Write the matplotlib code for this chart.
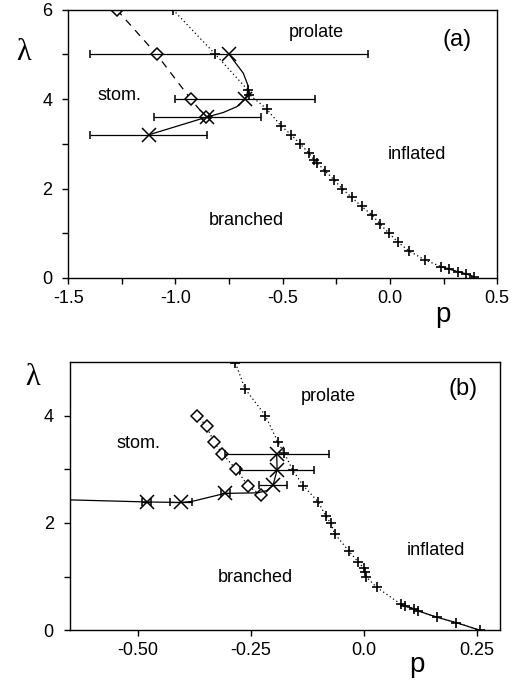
import numpy as np
import matplotlib.pyplot as plt
from matplotlib.ticker import MultipleLocator, FixedLocator

plt.rcParams['font.family'] = ['Liberation Sans', 'DejaVu Sans']

# ---- panel (a) ----
a_plus_p = [-1.012, -0.814, -0.662, -0.655, -0.575, -0.508, -0.46, -0.42, -0.379, -0.352, -0.342,
            -0.303, -0.262, -0.224, -0.178, -0.132, -0.082, -0.045, -0.005, 0.038, 0.09, 0.164,
            0.24, 0.276, 0.317, 0.356, 0.392]
a_plus_lam = [6.0, 5.0, 4.2, 4.1, 3.78, 3.4, 3.2, 3.0, 2.8, 2.63, 2.58, 2.4, 2.2, 2.0, 1.8, 1.6,
              1.4, 1.2, 1.0, 0.8, 0.6, 0.4, 0.25, 0.2, 0.14, 0.09, 0.03]
a_diam_p = [-1.274, -1.088, -0.929, -0.859]
a_diam_lam = [6.0, 5.0, 4.0, 3.6]
a_x_p = [-0.75, -0.676, -0.852, -1.125]
a_x_lam = [5.0, 4.0, 3.6, 3.2]
a_x_err = [0.65, 0.325, 0.25, 0.272]
a_line_p = [-0.75, -0.684, -0.660, -0.668, -0.676, -0.714, -0.777, -0.852, -1.125]
a_line_lam = [5.0, 4.58, 4.28, 4.08, 4.0, 3.83, 3.70, 3.6, 3.2]

# ---- panel (b) ----
b_plus_p = [-0.284, -0.263, -0.218, -0.190, -0.176, -0.158, -0.134, -0.101, -0.084, -0.073, -0.065,
            -0.034, -0.014, -0.001, 0.003, 0.005, 0.028, 0.082, 0.090, 0.111, 0.119, 0.162,
            0.204, 0.256]
b_plus_lam = [4.98, 4.5, 4.0, 3.5, 3.3, 2.99, 2.69, 2.39, 2.12, 1.99, 1.8, 1.48, 1.28, 1.16, 1.08,
              0.99, 0.8, 0.48, 0.45, 0.4, 0.36, 0.24, 0.14, 0.0]
b_diam_p = [-0.368, -0.348, -0.331, -0.313, -0.283, -0.256, -0.228]
b_diam_lam = [4.0, 3.8, 3.5, 3.29, 3.0, 2.69, 2.52]
b_x_p = [-0.48, -0.405, -0.307, -0.201, -0.192, -0.193]
b_x_lam = [2.39, 2.39, 2.55, 2.70, 2.99, 3.29]
b_x_err = [0.01, 0.024, 0.01, 0.03, 0.082, 0.115]
b_line_p = [-0.70, -0.48, -0.405, -0.38, -0.307, -0.235, -0.215, -0.201, -0.192, -0.193]
b_line_lam = [2.44, 2.39, 2.38, 2.40, 2.55, 2.56, 2.60, 2.70, 2.99, 3.29]

fig = plt.figure(figsize=(5.25, 6.88), dpi=100)
axa = fig.add_axes([0.130, 0.596, 0.817, 0.390])
axb = fig.add_axes([0.133, 0.084, 0.819, 0.390])

lw = 0.9
for ax, pp, pl, solid_from in [(axa, a_plus_p, a_plus_lam, 0.24), (axb, b_plus_p, b_plus_lam, 0.08)]:
    pp = np.array(pp); pl = np.array(pl)
    ax.plot(pp, pl, ls=(0, (1, 2.2)), color='k', lw=lw)
    m = pp >= solid_from
    ax.plot(pp[m], pl[m], '-', color='k', lw=lw)
    ax.plot(pp, pl, '+', color='k', ms=7.5, mew=1.2)

# (a) diamonds, dashed
axa.plot(a_diam_p, a_diam_lam, color='k', lw=lw, ls=(0, (6, 5)), marker='D', ms=6.5,
         mfc='white', mec='k', mew=1.1)
axa.plot(a_line_p, a_line_lam, '-', color='k', lw=lw)
axa.errorbar(a_x_p, a_x_lam, xerr=a_x_err, fmt='x', color='k', ms=10.5, mew=1.1,
             elinewidth=lw, capsize=3, capthick=lw)

# (b) diamonds, dotted
axb.plot(b_diam_p, b_diam_lam, color='k', lw=lw, ls=(0, (1, 2.2)), marker='D', ms=6.5,
         mfc='white', mec='k', mew=1.1)
axb.plot(b_line_p, b_line_lam, '-', color='k', lw=lw)
axb.errorbar(b_x_p, b_x_lam, xerr=b_x_err, fmt='x', color='k', ms=10.5, mew=1.1,
             elinewidth=lw, capsize=3, capthick=lw)

axa.set_xlim(-1.5, 0.5)
axa.set_ylim(0, 6)
axa.set_xticks([-1.5, -1.0, -0.5, 0.0, 0.5])
axa.set_xticklabels(['-1.5', '-1.0', '-0.5', '0.0', '0.5'])
axa.xaxis.set_minor_locator(MultipleLocator(0.25))
axa.set_yticks([0, 2, 4, 6])
axa.yaxis.set_minor_locator(FixedLocator([1, 3, 5]))

axb.set_xlim(-0.65, 0.30)
axb.set_ylim(0, 5)
axb.set_xticks([-0.5, -0.25, 0.0, 0.25])
axb.set_xticklabels(['-0.50', '-0.25', '0.0', '0.25'])
axb.set_yticks([0, 2, 4])
axb.yaxis.set_minor_locator(FixedLocator([1, 3]))

for ax in (axa, axb):
    for s in ax.spines.values():
        s.set_linewidth(1.0)
    ax.tick_params(which='both', direction='out', length=4.5, width=1.0, labelsize=13)
    ax.tick_params(axis='x', pad=4)
    ax.tick_params(axis='y', pad=7)

# region labels
axa.text(-0.344, 5.48, 'prolate', ha='center', va='center', fontsize=13)
axa.text(0.312, 5.33, '(a)', ha='center', va='center', fontsize=17)
axa.text(-1.262, 4.08, 'stom.', ha='center', va='center', fontsize=13)
axa.text(0.128, 2.77, 'inflated', ha='center', va='center', fontsize=13)
axa.text(-0.668, 1.28, 'branched', ha='center', va='center', fontsize=13)

axb.text(-0.078, 4.36, 'prolate', ha='center', va='center', fontsize=13)
axb.text(0.218, 4.49, '(b)', ha='center', va='center', fontsize=17)
axb.text(-0.498, 3.47, 'stom.', ha='center', va='center', fontsize=13)
axb.text(0.159, 1.48, 'inflated', ha='center', va='center', fontsize=13)
axb.text(-0.240, 0.98, 'branched', ha='center', va='center', fontsize=13)

# axis labels
axa.text(-0.103, 0.84, 'λ', transform=axa.transAxes, ha='center', va='center',
         fontsize=22, family='Liberation Serif')
axb.text(-0.086, 0.943, 'λ', transform=axb.transAxes, ha='center', va='center',
         fontsize=22, family='Liberation Serif')
axa.text(0.874, -0.138, 'p', transform=axa.transAxes, ha='center', va='center', fontsize=20)
axb.text(0.807, -0.13, 'p', transform=axb.transAxes, ha='center', va='center', fontsize=20)

fig.savefig('out.png', dpi=100)
